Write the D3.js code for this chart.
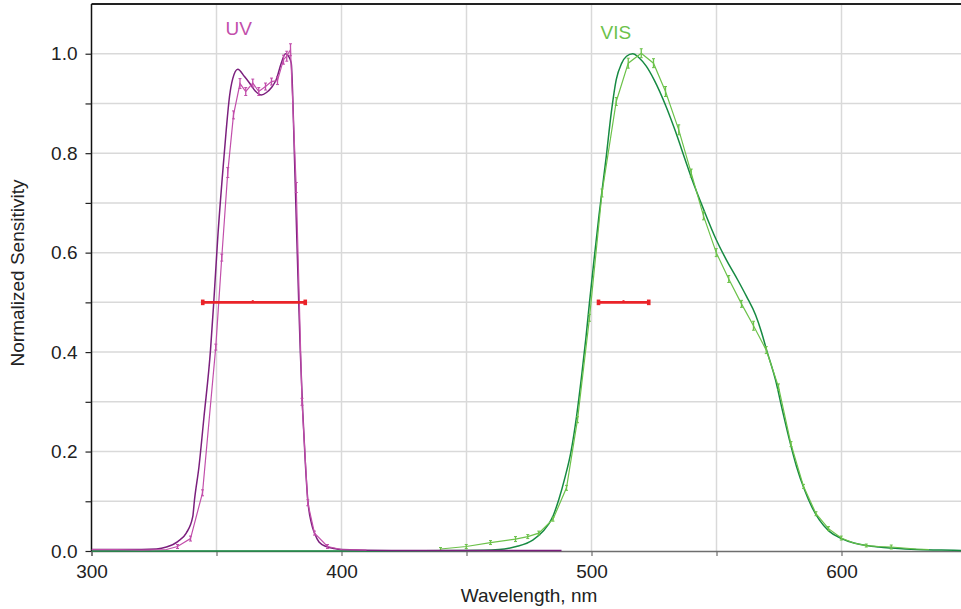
<!DOCTYPE html>
<html>
<head>
<meta charset="utf-8">
<script src="https://cdn.jsdelivr.net/npm/d3@7"></script>
<style>
  html, body { margin: 0; padding: 0; background: #fff; }
  svg { display: block; font-family: "Liberation Sans", Arial, sans-serif; }
</style>
</head>
<body>
<svg id="chart" width="961" height="609"></svg>
<script>
// Reference (smooth) UV response
const uvRefWl  = [300, 310, 320, 326, 330, 334.5, 337.9, 340.5, 341.2, 343, 345, 347.6, 348.9, 350.5, 352.9, 353.9, 355.2, 356.5, 358.5, 361.2, 363.2, 365.5, 367.9, 370, 372, 373.9, 375.9, 377.6, 378.8, 379.9, 380.5, 381.1, 382, 382.9, 383.5, 384.5, 385.5, 386.5, 388, 389.2, 391, 393.9, 397, 400, 420, 488];
const uvRefVal = [0.003, 0.003, 0.003, 0.004, 0.008, 0.019, 0.036, 0.069, 0.103, 0.17, 0.27, 0.404, 0.5, 0.63, 0.787, 0.847, 0.914, 0.95, 0.969, 0.954, 0.941, 0.925, 0.917, 0.922, 0.932, 0.948, 0.981, 1.0, 0.995, 0.981, 0.914, 0.807, 0.65, 0.5, 0.404, 0.28, 0.18, 0.103, 0.055, 0.036, 0.018, 0.009, 0.005, 0.003, 0.001, 0.001];

// Measured UV points with error bars
const uvMeasWl  = [300, 310, 320, 330, 334.4, 339.6, 344.4, 349.7, 352.1, 354.5, 356.8, 359.4, 361.7, 364.5, 366.9, 369.6, 372, 374.4, 376.8, 378.1, 379.6, 381.9, 384.2, 386.5, 389.2, 394.4, 400, 410];
const uvMeasVal = [0.003, 0.003, 0.002, 0.003, 0.009, 0.025, 0.117, 0.41, 0.59, 0.761, 0.877, 0.94, 0.924, 0.941, 0.924, 0.934, 0.944, 0.946, 0.988, 0.995, 1.008, 0.731, 0.3, 0.097, 0.036, 0.009, 0.003, 0.002];
const uvMeasErr = [0, 0, 0, 0, 0.002, 0.003, 0.004, 0.004, 0.005, 0.008, 0.006, 0.008, 0.006, 0.006, 0.006, 0.005, 0.005, 0.006, 0.007, 0.008, 0.01, 0.008, 0.005, 0.004, 0.002, 0.002, 0, 0];

// Reference (smooth) VIS response
const visRefWl  = [300, 400, 450, 463, 469.9, 476.5, 480.5, 484.5, 486.9, 489.5, 491.8, 494, 496, 497.8, 499.2, 501, 503, 505.9, 507.9, 509.9, 512, 514, 516.5, 519, 521.9, 525, 529.9, 533.5, 537.6, 540, 545, 549.9, 554, 558.5, 562, 565.6, 568, 570, 573.6, 576.5, 579.2, 582, 585.2, 588, 591.2, 595, 600, 605, 609.9, 615, 620, 630, 640, 650];
const visRefVal = [0.0, 0.0, 0.001, 0.003, 0.009, 0.022, 0.039, 0.069, 0.103, 0.15, 0.2, 0.27, 0.35, 0.43, 0.5, 0.585, 0.675, 0.793, 0.881, 0.948, 0.98, 0.995, 1.0, 0.992, 0.975, 0.948, 0.893, 0.845, 0.785, 0.75, 0.685, 0.626, 0.585, 0.545, 0.512, 0.475, 0.44, 0.405, 0.344, 0.28, 0.223, 0.17, 0.123, 0.09, 0.062, 0.04, 0.025, 0.016, 0.011, 0.008, 0.006, 0.003, 0.002, 0.001];

// Measured VIS points with error bars
const visMeasWl  = [439.6, 449.9, 459.6, 469.6, 474.5, 478.9, 484.6, 490, 494.4, 499.2, 504.2, 509.9, 514.7, 519.9, 524.8, 529.6, 534.9, 539.9, 544.8, 549.9, 554.9, 560, 564.8, 569.9, 574.8, 579.8, 584.8, 589.8, 594.8, 599.9, 604.9, 609.9, 614.9, 619.9, 624.9, 629.9, 635];
const visMeasVal = [0.004, 0.009, 0.017, 0.024, 0.029, 0.036, 0.064, 0.127, 0.264, 0.469, 0.72, 0.904, 0.981, 1.001, 0.981, 0.924, 0.847, 0.76, 0.674, 0.6, 0.547, 0.497, 0.453, 0.404, 0.33, 0.215, 0.13, 0.075, 0.045, 0.026, 0.016, 0.011, 0.009, 0.008, 0.006, 0.004, 0.003];
const visMeasErr = [0.001, 0.002, 0.002, 0.003, 0.002, 0.002, 0.002, 0.003, 0.004, 0.005, 0.006, 0.006, 0.008, 0.007, 0.007, 0.008, 0.008, 0.006, 0.006, 0.006, 0.005, 0.005, 0.007, 0.005, 0.004, 0.003, 0.002, 0.002, 0.002, 0.002, 0, 0.001, 0, 0.002, 0, 0, 0];

// Bandwidth bars at half maximum: [left, centre, right]
const uvBand  = [344.5, 364.5, 385.5];
const visBand = [502.8, 512.8, 522.9];
const halfMax = 0.5;

// Axis ticks
const xTickValues  = [300, 350, 400, 450, 500, 550, 600, 650];
const xTickLabels  = ["300", "", "400", "", "500", "", "600", ""];
const yTickValues  = [0, 0.1, 0.2, 0.3, 0.4, 0.5, 0.6, 0.7, 0.8, 0.9, 1.0];
const yTickLabels  = ["0.0", "", "0.2", "", "0.4", "", "0.6", "", "0.8", "", "1.0"];
const yGridValues  = [0.1, 0.2, 0.3, 0.4, 0.5, 0.6, 0.7, 0.8, 0.9, 1.0];
const xGridValues  = [350, 400, 450, 500, 550, 600];

const colors = {
  uvRef: "#7b1f7d",
  uvMeas: "#c24fab",
  visRef: "#168a42",
  visMeas: "#6cc24a",
  band: "#ea2329",
  grid: "#d9d9d9"
};

const svg = d3.select("#chart");
const plotLeft = 91.5, plotTop = 4, plotBottom = 551, plotRight = 961;

const x = d3.scaleLinear().domain([300, 650]).range([plotLeft, 966.5]);
const y = d3.scaleLinear().domain([0, 1.1]).range([plotBottom, plotTop]);

svg.append("defs").append("clipPath").attr("id", "plot")
  .append("rect").attr("x", plotLeft).attr("y", plotTop)
  .attr("width", plotRight - plotLeft).attr("height", plotBottom - plotTop + 1);

// Grid
const grid = svg.append("g");
grid.selectAll("line.h").data(yGridValues).join("line")
  .attr("x1", plotLeft).attr("x2", plotRight)
  .attr("y1", d => y(d)).attr("y2", d => y(d))
  .attr("stroke", colors.grid).attr("stroke-width", 1.5);
grid.selectAll("line.v").data(xGridValues).join("line")
  .attr("x1", d => x(d)).attr("x2", d => x(d))
  .attr("y1", plotTop).attr("y2", plotBottom)
  .attr("stroke", colors.grid).attr("stroke-width", 1.5);

// Top frame line
svg.append("line").attr("x1", plotLeft).attr("x2", plotRight).attr("y1", plotTop).attr("y2", plotTop)
  .attr("stroke", "#222").attr("stroke-width", 2);

// X axis
const xAxis = svg.append("g").attr("transform", `translate(0,${plotBottom})`)
  .call(d3.axisBottom(x).tickValues(xTickValues).tickSize(5).tickPadding(9)
    .tickFormat((d, i) => xTickLabels[i]));
xAxis.select(".domain").attr("stroke", "#6e6e6e").attr("stroke-width", 1.5);
xAxis.selectAll(".tick line").attr("stroke", "#6e6e6e").attr("stroke-width", 1.2);
xAxis.selectAll(".tick text").attr("font-size", 19).attr("fill", "#222")
  .attr("font-family", "Liberation Sans, Arial, sans-serif");

// Y axis
const yAxis = svg.append("g").attr("transform", `translate(${plotLeft},0)`)
  .call(d3.axisLeft(y).tickValues(yTickValues).tickSize(6).tickPadding(8)
    .tickFormat((d, i) => yTickLabels[i]));
yAxis.select(".domain").attr("stroke", "#111").attr("stroke-width", 1.5)
  .attr("d", `M0,${plotTop}V${plotBottom}`);
yAxis.selectAll(".tick line").attr("stroke", "#222").attr("stroke-width", 1.2);
yAxis.selectAll(".tick text").attr("font-size", 19).attr("fill", "#222")
  .attr("font-family", "Liberation Sans, Arial, sans-serif");

// Axis titles
svg.append("text").attr("x", 529).attr("y", 602).attr("text-anchor", "middle")
  .attr("font-size", 19).attr("fill", "#222").text("Wavelength, nm");
svg.append("text").attr("transform", "translate(24,273) rotate(-90)")
  .attr("text-anchor", "middle").attr("font-size", 19).attr("fill", "#222")
  .text("Normalized Sensitivity");

const plot = svg.append("g").attr("clip-path", "url(#plot)");

const smooth = d3.line().x(d => x(d[0])).y(d => y(d[1])).curve(d3.curveMonotoneX);
const straight = d3.line().x(d => x(d[0])).y(d => y(d[1]));

const zip = (a, b) => a.map((v, i) => [v, b[i]]);

// Measured series: polyline plus error bars (points without an error get no bar)
function measured(wl, val, err, color) {
  const g = plot.append("g");
  g.append("path").attr("d", straight(zip(wl, val)))
    .attr("fill", "none").attr("stroke", color).attr("stroke-width", 1.2);
  const pts = wl.map((w, i) => ({ w, v: val[i], e: err[i] })).filter(d => d.e > 0);
  const bars = g.selectAll("g.eb").data(pts).join("g");
  bars.append("line")
    .attr("x1", d => x(d.w)).attr("x2", d => x(d.w))
    .attr("y1", d => y(d.v - d.e) + 1).attr("y2", d => y(d.v + d.e) - 1)
    .attr("stroke", color).attr("stroke-width", 1.3);
  bars.append("line")
    .attr("x1", d => x(d.w) - 1.5).attr("x2", d => x(d.w) + 1.5)
    .attr("y1", d => y(d.v + d.e) - 1).attr("y2", d => y(d.v + d.e) - 1)
    .attr("stroke", color).attr("stroke-width", 1);
  bars.append("line")
    .attr("x1", d => x(d.w) - 1.5).attr("x2", d => x(d.w) + 1.5)
    .attr("y1", d => y(d.v - d.e) + 1).attr("y2", d => y(d.v - d.e) + 1)
    .attr("stroke", color).attr("stroke-width", 1);
}

// VIS reference then UV reference (UV tail sits over the baseline)
plot.append("path").attr("d", smooth(zip(visRefWl, visRefVal)))
  .attr("fill", "none").attr("stroke", colors.visRef).attr("stroke-width", 1.5);
measured(visMeasWl, visMeasVal, visMeasErr, colors.visMeas);

plot.append("path").attr("d", smooth(zip(uvRefWl, uvRefVal)))
  .attr("fill", "none").attr("stroke", colors.uvRef).attr("stroke-width", 1.5);
measured(uvMeasWl, uvMeasVal, uvMeasErr, colors.uvMeas);

// Bandwidth bars
function band(b) {
  const g = plot.append("g");
  g.append("line").attr("x1", x(b[0])).attr("x2", x(b[2]))
    .attr("y1", y(halfMax)).attr("y2", y(halfMax))
    .attr("stroke", colors.band).attr("stroke-width", 2.6);
  [b[0], b[2]].forEach(w => {
    g.append("rect").attr("x", x(w) - 1.8).attr("y", y(halfMax) - 2.8)
      .attr("width", 3.6).attr("height", 5.6).attr("fill", colors.band);
  });
  g.append("rect").attr("x", x(b[1]) - 1).attr("y", y(halfMax) - 2.2)
    .attr("width", 2).attr("height", 2.2).attr("fill", colors.band);
}
band(uvBand);
band(visBand);

// Series labels
svg.append("text").attr("x", 225.5).attr("y", 34.5).attr("font-size", 19)
  .attr("fill", colors.uvMeas).text("UV");
svg.append("text").attr("x", 600.5).attr("y", 38.5).attr("font-size", 19)
  .attr("fill", colors.visMeas).text("VIS");
</script>
</body>
</html>
